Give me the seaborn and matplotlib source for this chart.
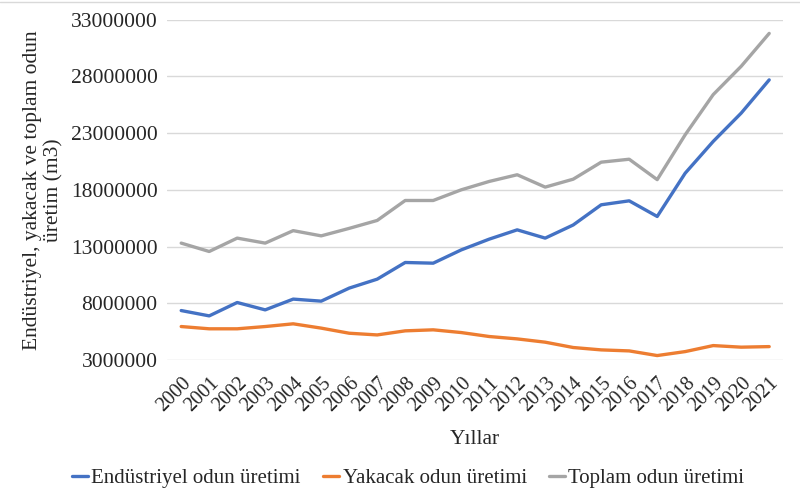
import pandas as pd
import matplotlib
matplotlib.use("Agg")
import matplotlib.pyplot as plt
import seaborn as sns

# Datos (m3)
yillar = list(range(2000, 2022))
endustriyel = [7350000, 6880000, 8060000, 7410000, 8360000, 8180000, 9330000, 10120000,
               11590000, 11530000, 12700000, 13650000, 14470000, 13740000, 14900000, 16680000,
               17030000, 15650000, 19470000, 22270000, 24770000, 27700000]
yakacak = [5940000, 5740000, 5740000, 5940000, 6180000, 5800000, 5350000, 5200000,
           5560000, 5650000, 5410000, 5060000, 4850000, 4560000, 4090000, 3880000,
           3790000, 3380000, 3730000, 4260000, 4120000, 4170000]
toplam = [13300000, 12560000, 13740000, 13300000, 14400000, 13940000, 14600000, 15300000,
          17060000, 17060000, 18000000, 18740000, 19330000, 18240000, 18940000, 20440000,
          20700000, 18900000, 22860000, 26400000, 28900000, 31800000]
seri_adlari = ["Endüstriyel odun üretimi", "Yakacak odun üretimi", "Toplam odun üretimi"]
renkler = ["#4472C4", "#ED7D31", "#A5A5A5"]
y_ticks = [3000000, 8000000, 13000000, 18000000, 23000000, 28000000, 33000000]

df = pd.DataFrame({"idx": list(range(len(yillar))) * 3,
                   "deger": endustriyel + yakacak + toplam,
                   "seri": [s for s in seri_adlari for _ in yillar]})

sns.set_theme(style="white")
plt.rcParams["font.family"] = ["Liberation Serif", "DejaVu Serif"]

fig, ax = plt.subplots(figsize=(8, 4.95), dpi=100)
fig.subplots_adjust(left=0.209, right=0.979, top=0.96, bottom=0.273)

sns.lineplot(data=df, x="idx", y="deger", hue="seri", hue_order=seri_adlari,
             palette=renkler, linewidth=2.4, ax=ax, legend=True)

ax.set_xlim(-0.5, len(yillar) - 0.5)
ax.set_ylim(3000000, 33000000)
ax.set_yticks(y_ticks)
ax.set_yticklabels([str(v) for v in y_ticks], fontsize=15.5, color="#262626")
ax.set_xticks(range(len(yillar)))
ax.set_xticklabels([str(y) for y in yillar], rotation=45, ha="right",
                   rotation_mode="anchor", fontsize=14.5, color="#262626")
ax.tick_params(axis="y", length=0, pad=7)
ax.tick_params(axis="x", length=0, pad=10)
ax.grid(axis="y", color="#D9D9D9", linewidth=1)
ax.set_axisbelow(True)
for s in ax.spines.values():
    s.set_visible(False)

ax.set_xlabel("Yıllar", fontsize=15.5, color="#262626", labelpad=10)
ax.set_ylabel("Endüstriyel, yakacak ve toplam odun\nüretim (m3)", fontsize=15.5,
              color="#262626", labelpad=5, linespacing=1.2)

handles, labels = ax.get_legend_handles_labels()
ax.legend_.remove()
fig.legend(handles, labels, loc="center", bbox_to_anchor=(0.51, 0.034), ncol=3,
           frameon=False, fontsize=15, handlelength=0.8, handletextpad=0.15,
           columnspacing=1.05)

fig.add_artist(plt.Line2D([0, 1], [0.996, 0.996], color="#D9D9D9", linewidth=1))

fig.savefig("out.png", dpi=100)
